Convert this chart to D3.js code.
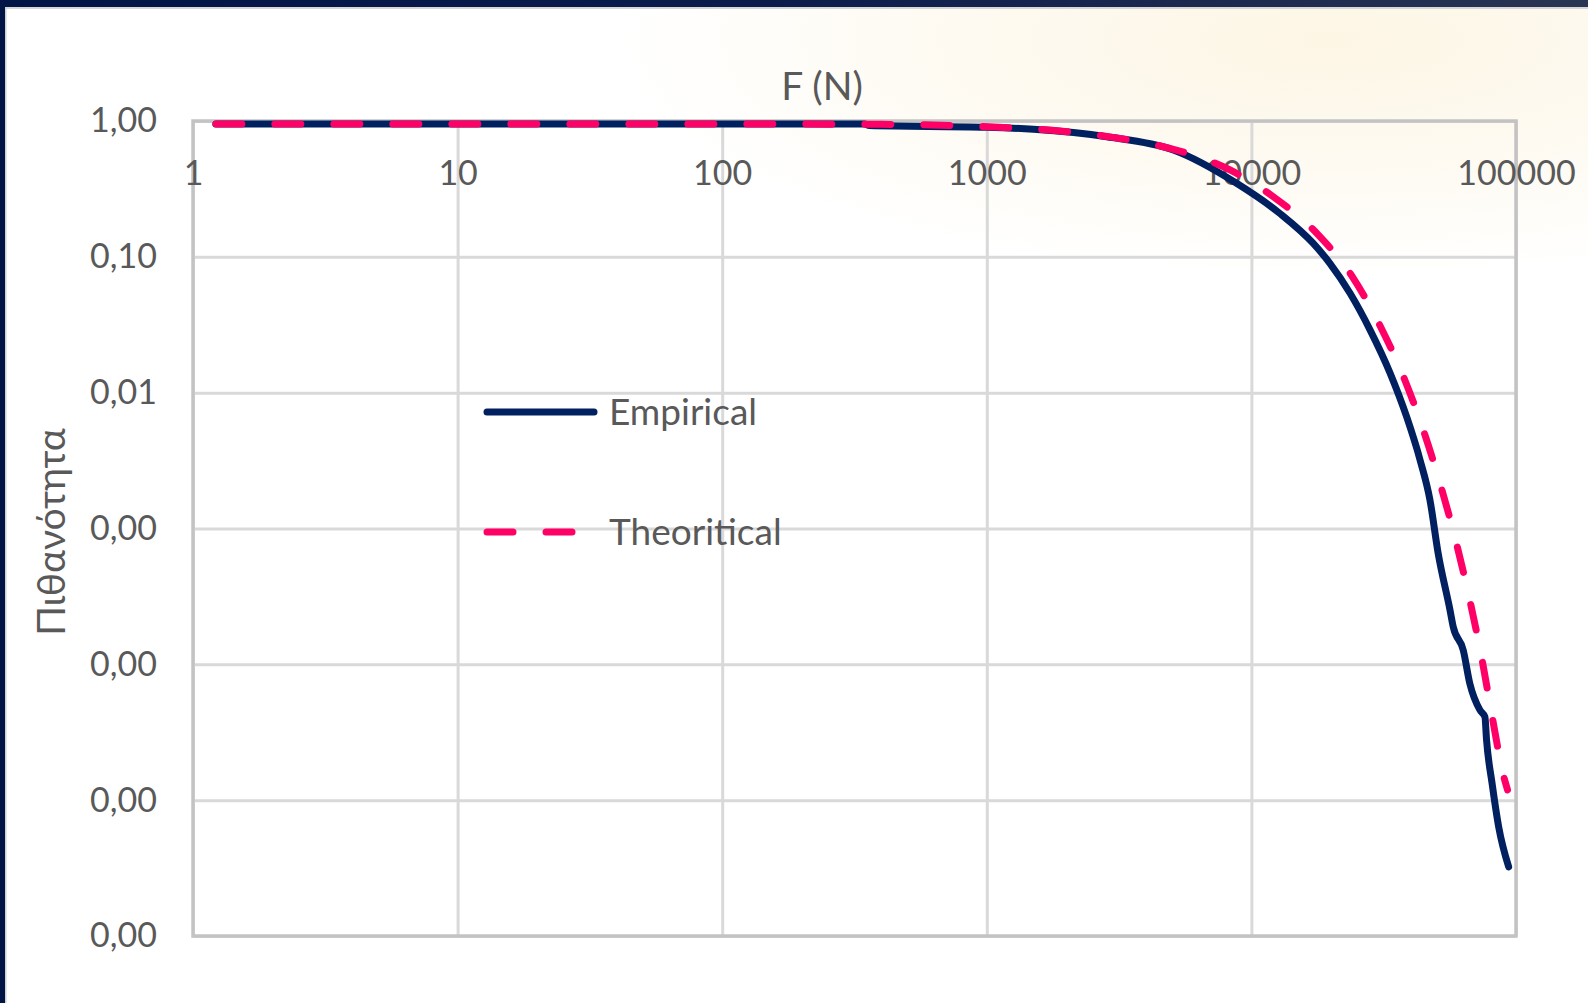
<!DOCTYPE html>
<html>
<head>
<meta charset="utf-8">
<script src="https://cdn.jsdelivr.net/npm/d3@7"></script>
<style>
  html, body { margin: 0; padding: 0; background: #fff; overflow: hidden; }
  svg { display: block; }
  text { font-family: Lato, "Open Sans", sans-serif; fill: #595959; }
</style>
</head>
<body>
<div id="chart"></div>
<script>
// values (exceedance probability vs force)
const empiricalF = [1.22, 80, 345, 360, 1000, 1500, 2840, 5070, 8790, 12800, 17100, 19800, 23600, 28100,
  33400, 38600, 43400, 47300, 50800, 56300, 57900, 63200, 66900, 73100, 76300, 77400, 81200, 86000, 93800];
const empiricalP = [0.95, 0.95, 0.95, 0.925, 0.9, 0.869, 0.766, 0.612, 0.348, 0.209, 0.126, 0.0896, 0.0539,
  0.0289, 0.014, 0.00665, 0.00319, 0.00162, 0.000656, 0.000251, 0.000189, 0.000127, 0.0000723, 0.000046,
  0.000041, 0.0000277, 0.0000133, 0.00000636, 0.00000323];

const theoreticalF = [1.22, 100, 400, 1000, 1845, 3000, 4920, 8300, 12100, 17900, 24300, 31000, 38000,
  45300, 52300, 60000, 67300, 74500, 81300, 89900, 92900];
const theoreticalP = [0.95, 0.95, 0.945, 0.908, 0.848, 0.758, 0.629, 0.436, 0.277, 0.145, 0.0695, 0.0297,
  0.0124, 0.00487, 0.00197, 0.000733, 0.000281, 0.000107, 0.000041, 0.0000149, 0.0000119];

const seriesNames = ['Empirical', 'Theoritical'];
const fTicks = [1, 10, 100, 1000, 10000, 100000];
const pTicks = [1, 0.1, 0.01, 0.001, 0.0001, 0.00001, 0.000001];

const width = 1588, height = 1003;
const margin = { top: 121, right: 72, bottom: 67, left: 193 };
const innerW = width - margin.left - margin.right;
const innerH = height - margin.top - margin.bottom;

const navy = '#002060', pink = '#ff0066';

const svg = d3.select('#chart').append('svg')
    .attr('width', width)
    .attr('height', height);

// background with a soft warm glow top right
let defs = svg.append('defs');
let glow = defs.append('radialGradient')
    .attr('id', 'glow')
    .attr('gradientUnits', 'userSpaceOnUse')
    .attr('cx', 1330).attr('cy', 40).attr('r', 720)
    .attr('gradientTransform', 'translate(1330,40) scale(1,0.33) translate(-1330,-40)');
glow.append('stop').attr('offset', 0).attr('stop-color', '#fdf6e5');
glow.append('stop').attr('offset', 0.5).attr('stop-color', '#fefaf1');
glow.append('stop').attr('offset', 1).attr('stop-color', '#ffffff');

let topBar = defs.append('linearGradient').attr('id', 'topbar');
topBar.append('stop').attr('offset', 0).attr('stop-color', '#001446');
topBar.append('stop').attr('offset', 0.5).attr('stop-color', '#0c1d4c');
topBar.append('stop').attr('offset', 1).attr('stop-color', '#2a3552');

svg.append('rect').attr('width', width).attr('height', height).attr('fill', '#fff');
svg.append('rect').attr('width', width).attr('height', height).attr('fill', 'url(#glow)');
svg.append('rect').attr('x', 0).attr('y', 7).attr('width', width).attr('height', 2).attr('fill', '#d6d6d6');
svg.append('rect').attr('x', 0).attr('y', 0).attr('width', width).attr('height', 7).attr('fill', 'url(#topbar)');
svg.append('rect').attr('x', 5).attr('y', 7).attr('width', 1.5).attr('height', height).attr('fill', '#d0d0d0');
svg.append('rect').attr('x', 0).attr('y', 0).attr('width', 5).attr('height', height).attr('fill', '#001446');

const x = d3.scaleLog().domain([1, 100000]).range([0, innerW]);
const y = d3.scaleLog().domain([0.000001, 1]).range([innerH, 0]);

const locale = d3.formatLocale({ decimal: ',', thousands: '.', grouping: [3], currency: ['', '€'] });
const pFormat = locale.format('.2f');

const g = svg.append('g').attr('transform', `translate(${margin.left},${margin.top})`);

// gridlines
g.append('g')
    .attr('class', 'grid-x')
    .attr('transform', `translate(0,${innerH})`)
    .call(d3.axisBottom(x).tickValues(fTicks).tickSize(-innerH).tickFormat(''))
    .call(a => a.select('.domain').remove())
    .selectAll('line').attr('stroke', '#d9d9d9').attr('stroke-width', 3);

g.append('g')
    .attr('class', 'grid-y')
    .call(d3.axisLeft(y).tickValues(pTicks).tickSize(-innerW).tickFormat(''))
    .call(a => a.select('.domain').remove())
    .selectAll('line').attr('stroke', '#d9d9d9').attr('stroke-width', 3);

// plot area border
g.append('rect')
    .attr('x', 0).attr('y', 0)
    .attr('width', innerW).attr('height', innerH)
    .attr('fill', 'none')
    .attr('stroke', '#c3c3c3')
    .attr('stroke-width', 3.5);

// y labels
g.append('g')
    .call(d3.axisLeft(y).tickValues(pTicks).tickSize(0).tickPadding(36).tickFormat(pFormat))
    .call(a => a.select('.domain').remove())
    .selectAll('text')
    .attr('font-size', 34)
    .attr('fill', '#595959')
    .style('font-family', 'Lato, "Open Sans", sans-serif');

// x labels sit just under the top line
g.append('g')
    .call(d3.axisBottom(x).tickValues(fTicks).tickSize(0).tickPadding(40).tickFormat(d3.format('d')))
    .call(a => a.select('.domain').remove())
    .selectAll('text')
    .attr('font-size', 34)
    .attr('fill', '#595959')
    .style('font-family', 'Lato, "Open Sans", sans-serif');

// series
const line = d3.line()
    .x(d => x(d[0]))
    .y(d => y(d[1]))
    .curve(d3.curveMonotoneX);

const empirical = empiricalF.map((f, i) => [f, empiricalP[i]]);
const theoretical = theoreticalF.map((f, i) => [f, theoreticalP[i]]);

g.append('path')
    .datum(empirical)
    .attr('d', line)
    .attr('fill', 'none')
    .attr('stroke', navy)
    .attr('stroke-width', 7)
    .attr('stroke-linecap', 'round')
    .attr('stroke-linejoin', 'round');

g.append('path')
    .datum(theoretical)
    .attr('d', line)
    .attr('fill', 'none')
    .attr('stroke', pink)
    .attr('stroke-width', 7)
    .attr('stroke-dasharray', '26,33')
    .attr('stroke-linecap', 'round');

// legend
const legend = svg.append('g');
const legendY = [412, 532];
legend.append('line')
    .attr('x1', 487).attr('x2', 594)
    .attr('y1', legendY[0]).attr('y2', legendY[0])
    .attr('stroke', navy).attr('stroke-width', 7).attr('stroke-linecap', 'round');
legend.append('line')
    .attr('x1', 487).attr('x2', 572)
    .attr('y1', legendY[1]).attr('y2', legendY[1])
    .attr('stroke', pink).attr('stroke-width', 7)
    .attr('stroke-dasharray', '26,33').attr('stroke-linecap', 'round');
legend.selectAll('text.lg')
    .data(seriesNames)
    .enter().append('text')
    .attr('class', 'lg')
    .attr('x', 609)
    .attr('y', (d, i) => legendY[i])
    .attr('dy', '0.35em')
    .attr('font-size', 37)
    .text(d => d);

// titles
svg.append('text')
    .attr('x', 822).attr('y', 86)
    .attr('dy', '0.35em')
    .attr('text-anchor', 'middle')
    .attr('font-size', 39)
    .text('F (N)');

svg.append('text')
    .attr('transform', 'translate(51,532) rotate(-90)')
    .attr('dy', '0.35em')
    .attr('text-anchor', 'middle')
    .attr('font-size', 39)
    .text('Πιθανότητα');
</script>
</body>
</html>
